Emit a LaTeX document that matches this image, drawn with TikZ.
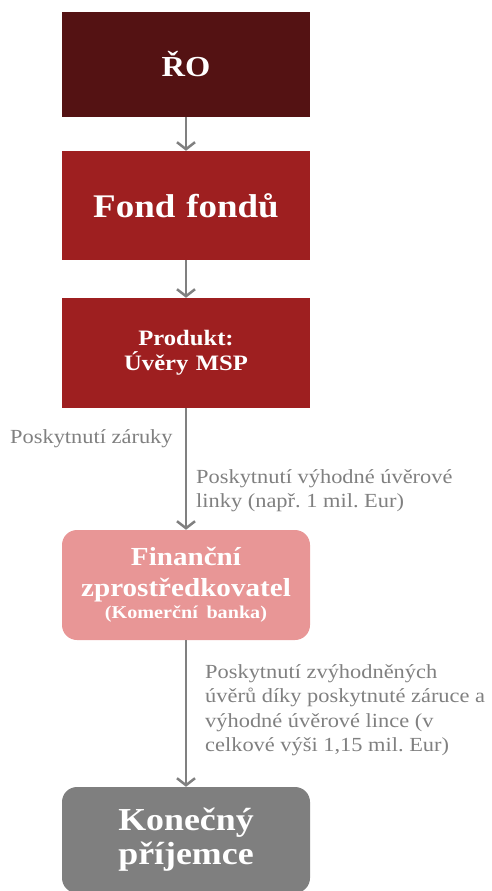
\documentclass[tikz,border=0pt]{standalone}
\usepackage{fontspec}
\setmainfont{Liberation Serif}[FakeStretch=1.12]
\usetikzlibrary{arrows.meta,positioning}
\frenchspacing

\definecolor{roRed}{HTML}{541213}
\definecolor{fondRed}{HTML}{9E1F20}
\definecolor{fzPink}{HTML}{E89696}
\definecolor{kpGray}{HTML}{7F7F7F}
\definecolor{txtGray}{HTML}{808080}

\tikzset{
	box/.style={minimum width=248pt, text width=240pt, align=center,
		text=white, font=\bfseries, inner sep=0pt},
	flow/.style={draw=txtGray, line width=2.5pt,
		-{Straight Barb[length=7pt, width=18pt, line width=2.5pt]}},
	note/.style={text=txtGray, align=left, inner sep=0pt,
		font=\fontsize{20}{24.5}\selectfont}
}

\begin{document}
\begin{tikzpicture}[x=1pt, y=-1pt]
		\useasboundingbox (0, 0) rectangle (492, 891);
		\node[box, fill=roRed, minimum height=105pt,
			font=\bfseries\fontsize{29}{34}\selectfont] (ro) at (186, 64.5) {ŘO};
		\node[box, fill=fondRed, minimum height=109pt,
			font=\bfseries\fontsize{33}{36}\selectfont] (fond) at (186, 205.5) {Fond fondů};
		\node[box, fill=fondRed, minimum height=110pt,
			font=\bfseries\fontsize{22}{25}\selectfont] (produkt) at (186, 353) {Produkt:\\Úvěry MSP};
		\node[box, fill=fzPink, minimum height=110pt, rounded corners=15pt,
			font=\bfseries\fontsize{26}{31}\selectfont] (fz) at (186, 585)
			{Finanční\\zprostředkovatel\\[-9pt]{\fontsize{18}{21}\selectfont(Komerční banka)}};
		\node[box, fill=kpGray, minimum height=106pt, rounded corners=15pt,
			font=\bfseries\fontsize{32}{34}\selectfont] (kp) at (186, 840) {Konečný\\příjemce};
		
		\node[note, anchor=base west] (zaruka) at (10, 443) {Poskytnutí záruky};
		\node[note, anchor=north west] (linka) at (196, 469)
			{Poskytnutí výhodné úvěrové\\linky (např. 1 mil. Eur)};
		\node[note, anchor=north west] (uvery) at (205, 664)
			{Poskytnutí zvýhodněných\\úvěrů díky poskytnuté záruce a\\výhodné úvěrové lince (v\\celkové výši 1,15 mil. Eur)};
		
		\draw [flow] (ro) to (fond);
		\draw [flow] (fond) to (produkt);
		\draw [flow] (produkt) to (fz);
		\draw [flow] (fz) to (kp);
		\end{tikzpicture}
\end{document}
